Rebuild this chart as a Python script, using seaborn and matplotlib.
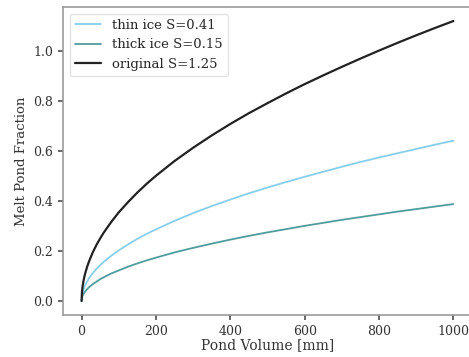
import matplotlib
matplotlib.use("Agg")
import matplotlib.pyplot as plt
import seaborn as sns
import pandas as pd

volume = [0, 1, 2, 3, 5, 7, 10, 15, 20, 30, 40, 50, 60, 80, 100, 125, 150, 175, 200, 250,
          300, 350, 400, 450, 500, 550, 600, 650, 700, 750, 800, 850, 900, 950, 1000]
thin_ice = [0.0, 0.020, 0.029, 0.035, 0.045, 0.054, 0.064, 0.078, 0.091, 0.111, 0.128, 0.143,
            0.157, 0.181, 0.202, 0.226, 0.248, 0.268, 0.286, 0.320, 0.351, 0.379, 0.405, 0.430,
            0.453, 0.475, 0.496, 0.516, 0.536, 0.555, 0.573, 0.590, 0.607, 0.624, 0.640]
thick_ice = [0.0, 0.012, 0.017, 0.021, 0.027, 0.032, 0.039, 0.047, 0.055, 0.067, 0.077, 0.087,
             0.095, 0.110, 0.122, 0.137, 0.150, 0.162, 0.173, 0.194, 0.212, 0.229, 0.245, 0.260,
             0.274, 0.287, 0.300, 0.312, 0.324, 0.335, 0.346, 0.357, 0.367, 0.377, 0.387]
original = [0.0, 0.035, 0.050, 0.061, 0.079, 0.094, 0.112, 0.137, 0.158, 0.194, 0.224, 0.250,
            0.274, 0.316, 0.354, 0.395, 0.433, 0.468, 0.500, 0.559, 0.612, 0.661, 0.707, 0.750,
            0.790, 0.829, 0.866, 0.901, 0.935, 0.968, 1.000, 1.031, 1.061, 1.090, 1.118]
labels = ["thin ice S=0.41", "thick ice S=0.15", "original S=1.25"]
colors = ["#87CEEB", "#4F9C9C", "#222222"]
widths = [1.3, 1.3, 1.6]

sns.set_theme(style="ticks")
plt.rcParams["font.family"] = ["DejaVu Serif"]

rows = []
for lab, vals in zip(labels, [thin_ice, thick_ice, original]):
    for v, f in zip(volume, vals):
        rows.append({"Pond Volume [mm]": v, "Melt Pond Fraction": f, "series": lab})
df = pd.DataFrame(rows)

fig = plt.figure(figsize=(4.69, 3.57), dpi=100)
ax = fig.add_axes([63 / 469, (357 - 315) / 357, (472 - 63) / 469, (315 - 7) / 357])
sns.lineplot(data=df, x="Pond Volume [mm]", y="Melt Pond Fraction", hue="series",
             hue_order=labels, palette=dict(zip(labels, colors)), ax=ax, linewidth=1.4)
for line, w in zip(ax.get_lines(), widths):
    line.set_linewidth(w)
ax.set_xlim(-50, 1050)
ax.set_ylim(-0.056, 1.174)
ax.set_xticks([0, 200, 400, 600, 800, 1000])
ax.set_yticks([0.0, 0.2, 0.4, 0.6, 0.8, 1.0])
ax.tick_params(colors="#555555", labelsize=9, length=3.5, labelcolor="#333333")
for s in ax.spines.values():
    s.set_color("#999999")
    s.set_linewidth(1.2)
ax.set_xlabel("Pond Volume [mm]", fontsize=10, labelpad=0, color="#333333")
ax.set_ylabel("Melt Pond Fraction", fontsize=9.5, color="#333333")
leg = ax.legend(loc="upper left", fontsize=9.5, frameon=True, title=None)
for h, w in zip(leg.get_lines(), widths):
    h.set_linewidth(w)
leg.get_frame().set_edgecolor("#dddddd")
fig.savefig("out.png", dpi=100)
